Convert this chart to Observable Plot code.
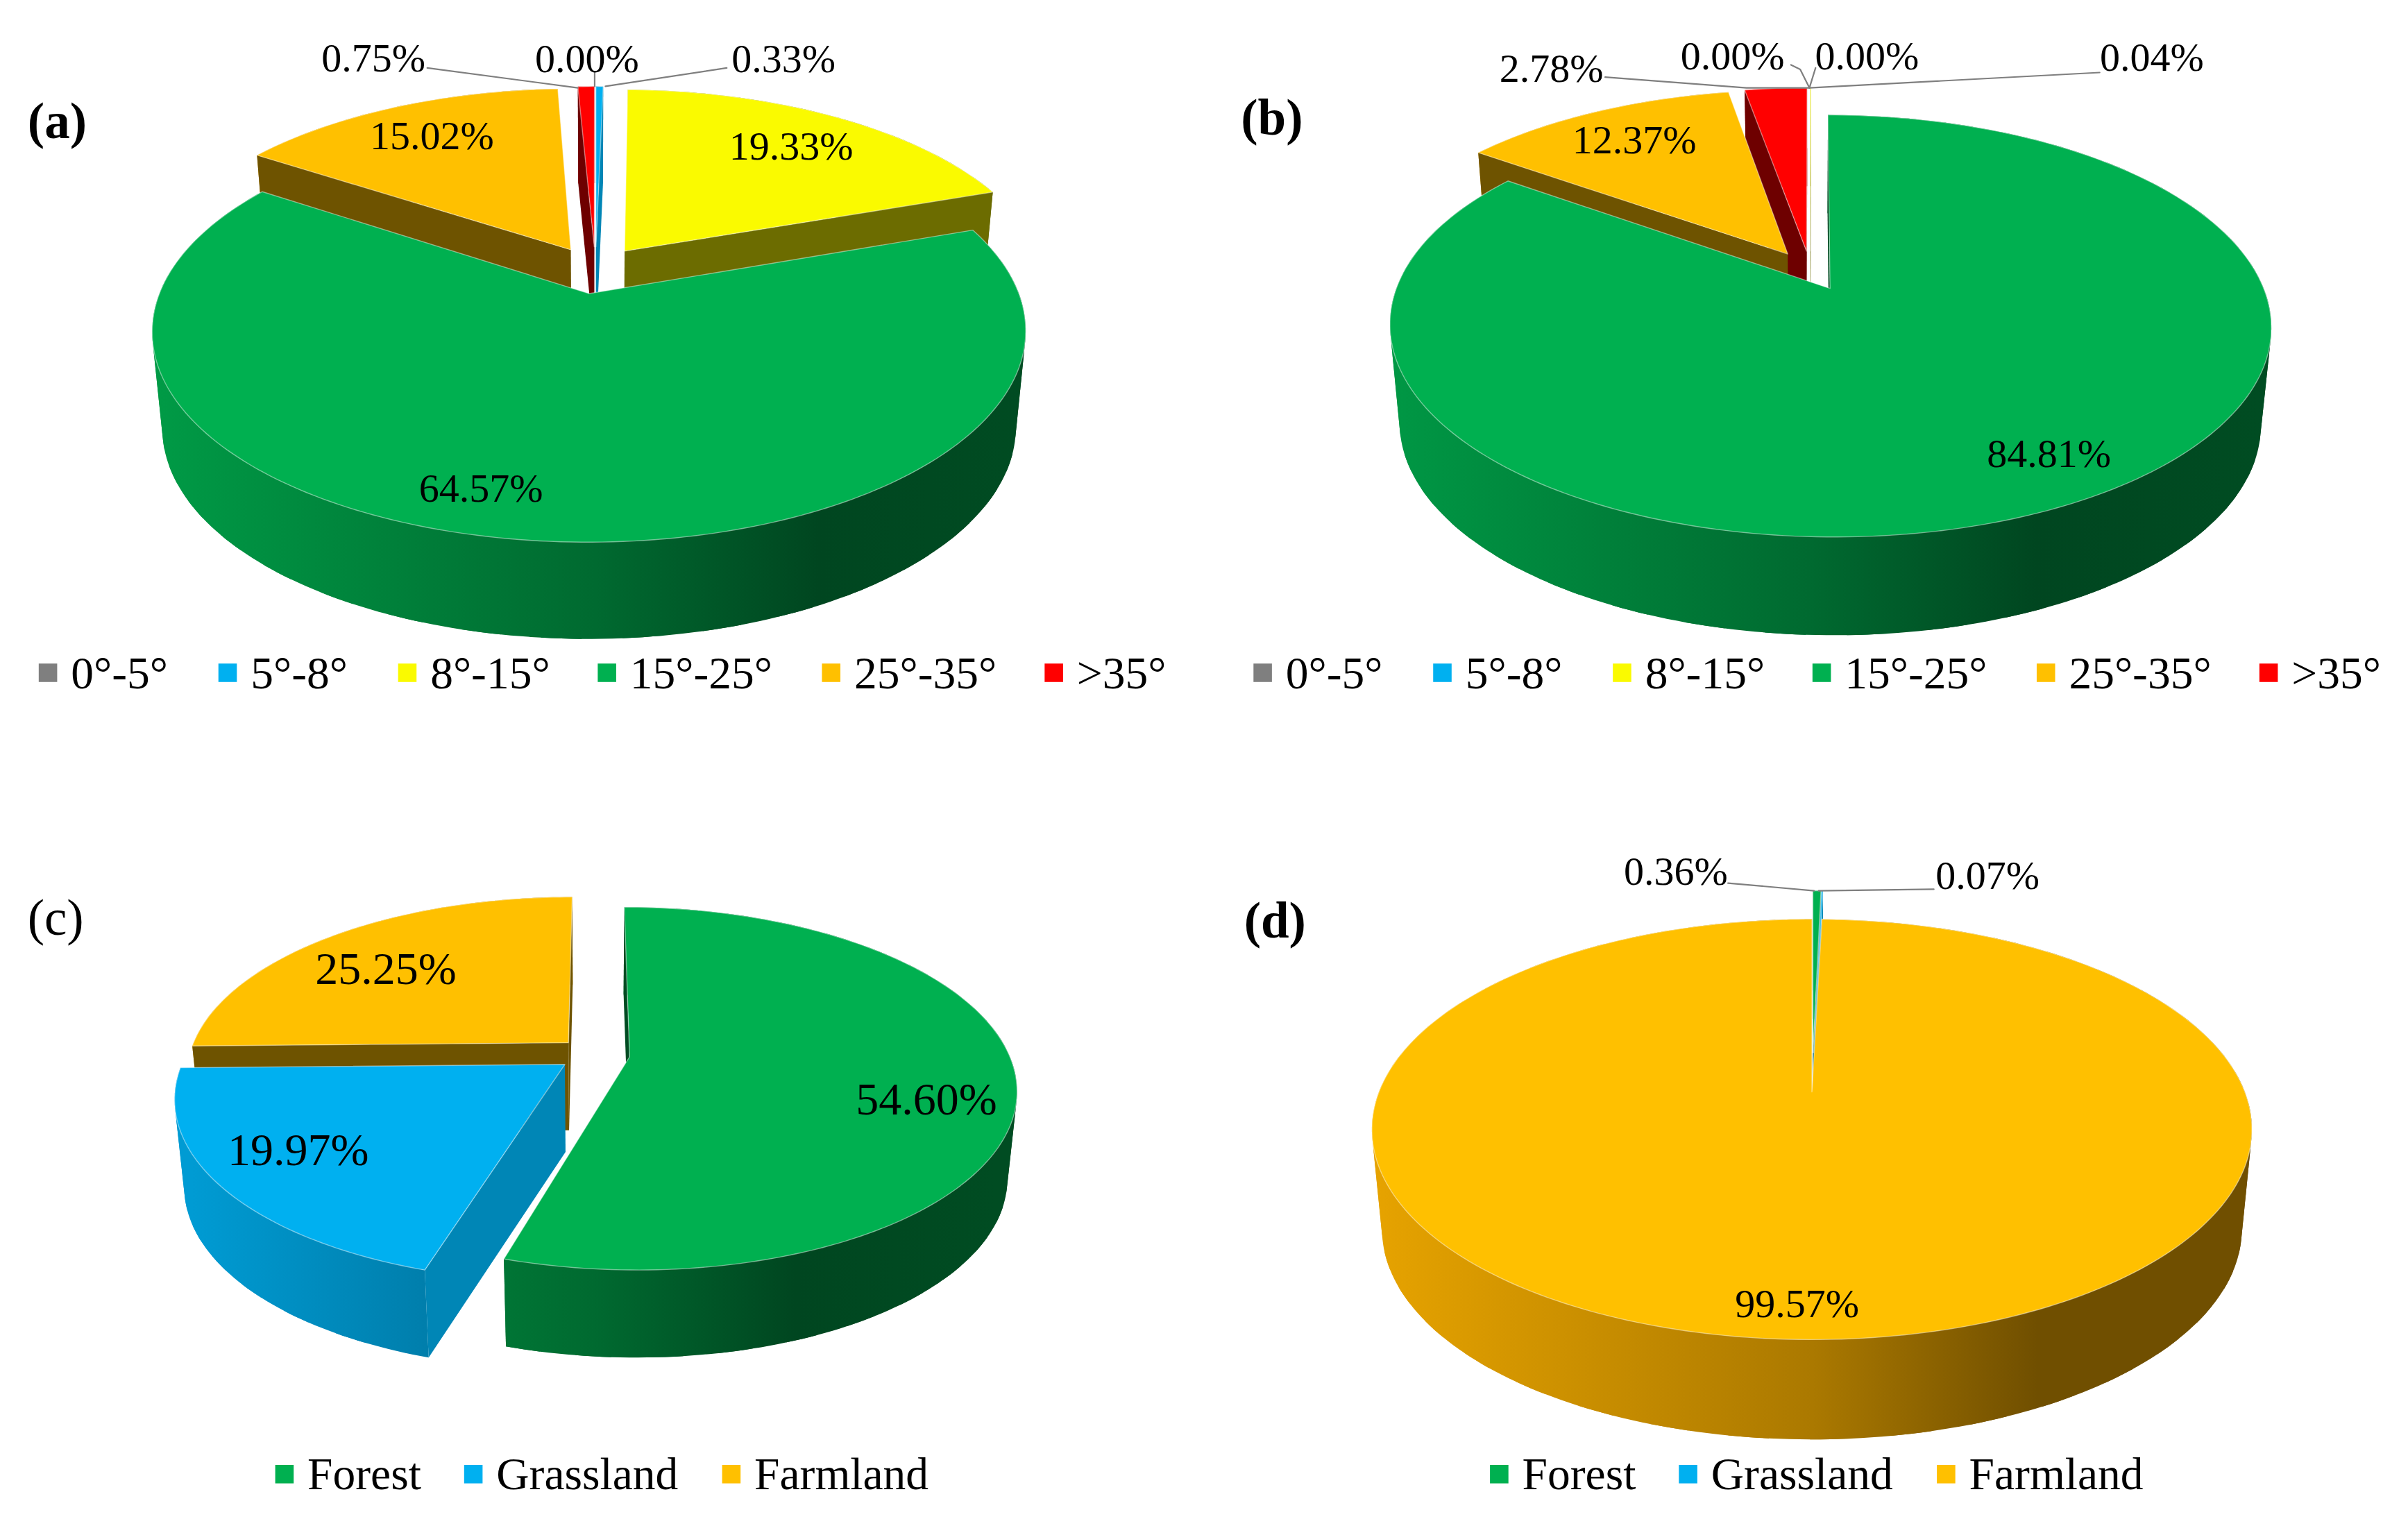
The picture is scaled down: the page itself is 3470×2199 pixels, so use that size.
<!DOCTYPE html>
<html>
<head>
<meta charset="utf-8">
<script src="https://cdn.jsdelivr.net/npm/d3@7"></script>
<script src="https://cdn.jsdelivr.net/npm/@observablehq/plot@0.6"></script>
<style>html,body{margin:0;padding:0;background:#fff}svg{display:block}</style>
</head>
<body>
<div id="chart"></div>
<script>
// ---- data ----
const slopeClasses = ["0°-5°", "5°-8°", "8°-15°", "15°-25°", "25°-35°", ">35°"];
const slopeColors = ["#7F7F7F", "#00B0F0", "#FAFA00", "#00B050", "#FFC000", "#FF0000"];
const shareA = [0.00, 0.33, 19.33, 64.57, 15.02, 0.75];
const shareB = [0.00, 0.00, 0.04, 84.81, 12.37, 2.78];
const landClasses = ["Forest", "Grassland", "Farmland"];
const landColors = ["#00B050", "#00B0F0", "#FFC000"];
const shareC = [54.60, 19.97, 25.25];
const shareD = [0.36, 0.07, 99.57];

// ---- layout, in units of the picture (1568 wide) ----
const W = 3470, H = 2199, UX = 1568, UY = 994;
const pieA = {cx: 387.5, cy: 175.5, A: 274, B: 127.5, depth: 63, explode: 0.12, k: 0.175};
const pieB = {cx: 1178.5, cy: 176, A: 278, B: 129, depth: 64, explode: 0.10, k: 0.175};
const pieC = {cx: 386.5, cy: 686.5, A: 247, B: 114, depth: 57, explode: 0.095, k: 0.175};
const pieD = {cx: 1180, cy: 698, A: 277, B: 128, depth: 65, explode: 0.10, k: 0.175};

const panels = [
  {id: "a", tag: "(a)", weight: "bold", tagAt: [37, 79], labelSize: 58, pie: pieA, shares: shareA, names: slopeClasses, colors: slopeColors,
   labelAt: [[382, 38.5], [510, 38.5], [515, 95.5], [313, 318], [281, 88.5], [243, 38]],
   leaders: [[[387, 47], [387, 56]], [[473, 44], [394, 56]], [[278, 44], [376, 57]]],
   keyAt: [31, 148, 265, 395, 541, 686], keyY: 438},
  {id: "b", tag: "(b)", weight: "bold", tagAt: [828, 77], labelSize: 58, pie: pieB, shares: shareB, names: slopeClasses, colors: slopeColors,
   labelAt: [[1128, 36.5], [1215.5, 36.5], [1401, 37.5], [1334, 295.5], [1064, 91.5], [1010, 44.5]],
   leaders: [[[1045, 50], [1137, 57], [1178, 57]], [[1166, 42], [1172, 45], [1178, 57]], [[1182, 44], [1178, 57]], [[1367, 47], [1178, 57]]],
   keyAt: [822, 939, 1056, 1186, 1332, 1477], keyY: 438},
  {id: "c", tag: "(c)", weight: "normal", tagAt: [36, 598], labelSize: 66, pie: pieC, shares: shareC, names: landClasses, colors: landColors,
   labelAt: [[603, 716], [194, 749], [251, 631]],
   leaders: [],
   keyAt: [185, 308, 476], keyY: 960},
  {id: "d", tag: "(d)", weight: "bold", tagAt: [830, 600], labelSize: 58, pie: pieD, shares: shareD, names: landClasses, colors: landColors,
   labelAt: [[1091, 567.5], [1294, 570.5], [1170, 849.5]],
   leaders: [[[1125, 575], [1181, 580]], [[1259, 579], [1184, 580]]],
   keyAt: [976, 1099, 1267], keyY: 960}
];

const SERIF = "Liberation Serif";
const shade = (c, f) => { const r = d3.rgb(c); return d3.rgb(r.r * f, r.g * f, r.b * f).formatHex(); };
const isOrange = c => c === "#FFC000";
const tonesFor = c => isOrange(c)
  ? [[0, 0.91], [0.5, 0.67], [0.75, 0.44], [1, 0.44]]
  : [[0, 0.88], [0.5, 0.6], [0.75, 0.4], [1, 0.43]];
const faceTone = c => c === "#00B0F0" ? 0.76 : 0.43;

function project(p, X, Y) {
  const d = 1 - p.k * Y;
  return [p.cx + p.A * X / d, p.cy + p.B * Y / d];
}
const lower = (p, q) => [p.cx + (q[0] - p.cx) * 0.977, q[1] + p.depth];

const marks = [];
const gradients = [];
const fillLine = (pts, fill, extra = {}) =>
  Plot.line(pts, {x: d => d[0], y: d => d[1], curve: "linear", fill, stroke: "none", ...extra});

for (const panel of panels) {
  const {pie: p, shares, colors} = panel;
  const total = d3.sum(shares);
  let acc = 0;
  const slices = shares.map((v, i) => {
    const a0 = acc / total * 2 * Math.PI; acc += v;
    const a1 = acc / total * 2 * Math.PI;
    const m = (a0 + a1) / 2;
    return {v, i, a0, a1, m, color: colors[i]};
  }).filter(s => s.v > 0).sort((a, b) => (-Math.cos(a.m)) - (-Math.cos(b.m)));

  for (const s of slices) {
    const ox = p.explode * Math.sin(s.m), oy = -p.explode * Math.cos(s.m);
    const n = Math.max(2, Math.ceil((s.a1 - s.a0) / 0.02));
    const arc = d3.range(n + 1).map(j => {
      const a = s.a0 + (s.a1 - s.a0) * j / n;
      return project(p, ox + Math.sin(a), oy - Math.cos(a));
    });
    const apex = project(p, ox, oy);
    const first = arc[0], last = arc[arc.length - 1];
    const tone = shade(s.color, faceTone(s.color));

    // rim: swept in overlapping pieces so the silhouette is the true tangent
    const gid = `wall-${panel.id}-${s.i}`;
    gradients.push({gid, color: s.color, p});
    for (let j = 0; j < n; j += 8) {
      const part = arc.slice(j, Math.min(j + 12, n) + 1);
      const hull = d3.polygonHull([...part, ...part.map(q => lower(p, q))]);
      if (hull) marks.push(fillLine(hull, `url(#${gid})`));
    }
    // radial faces, only those turned toward the viewer
    if (-Math.sin(s.a0) > -0.02) marks.push(fillLine([apex, first, lower(p, first), lower(p, apex)], tone));
    if (Math.sin(s.a1) > -0.02) marks.push(fillLine([apex, last, lower(p, last), lower(p, apex)], tone));
    // top face
    marks.push(fillLine([apex, ...arc, apex], s.color, {stroke: "#ffffff", strokeWidth: 1.4, strokeOpacity: 0.45}));
  }

  // leader lines
  for (const l of panel.leaders) {
    marks.push(Plot.line(l, {x: d => d[0], y: d => d[1], curve: "linear", stroke: "#7f7f7f", strokeWidth: 2.2}));
  }

  // value labels
  const labels = shares.map((v, i) => ({t: v.toFixed(2) + "%", at: panel.labelAt[i]}));
  marks.push(Plot.text(labels, {x: d => d.at[0], y: d => d.at[1], text: d => d.t, fontFamily: SERIF, fontSize: panel.labelSize, fill: "#000", textAnchor: "middle", lineAnchor: "middle"}));

  // panel tag
  marks.push(Plot.text([panel.tag], {x: () => panel.tagAt[0], y: () => panel.tagAt[1], text: d => d, fontFamily: SERIF, fontWeight: panel.weight, fontSize: 73, fill: "#000", textAnchor: "middle", lineAnchor: "middle"}));

  // legend
  const keys = panel.names.map((name, i) => ({name, color: colors[i], x: panel.keyAt[i], y: panel.keyY}));
  marks.push(Plot.dot(keys, {x: "x", y: "y", symbol: "square", r: 15, fill: "color", stroke: "none"}));
  marks.push(Plot.text(keys, {x: d => d.x + 15, y: d => d.y + 0.5, text: "name", fontFamily: SERIF, fontSize: 65.5, fill: "#000", textAnchor: "start", lineAnchor: "middle"}));
}

const defsMark = (index, scales) => {
  const defs = d3.create("svg:defs");
  for (const g of gradients) {
    const half = g.p.A * 1.06;
    const base = isOrange(g.color) ? "#FFB400" : g.color;
    const lg = defs.append("linearGradient").attr("id", g.gid).attr("gradientUnits", "userSpaceOnUse")
      .attr("x1", scales.x(g.p.cx - half)).attr("x2", scales.x(g.p.cx + half)).attr("y1", 0).attr("y2", 0);
    for (const [o, f] of tonesFor(g.color)) lg.append("stop").attr("offset", o).attr("stop-color", shade(base, f));
  }
  return defs.node();
};

const chart = Plot.plot({
  width: W, height: H,
  marginTop: 0, marginRight: 0, marginBottom: 0, marginLeft: 0,
  x: {domain: [0, UX], range: [0, W], axis: null},
  y: {domain: [0, UY], range: [0, H], axis: null},
  style: {background: "#fff"},
  marks: [defsMark, ...marks]
});
document.getElementById("chart").append(chart);
</script>
</body>
</html>
